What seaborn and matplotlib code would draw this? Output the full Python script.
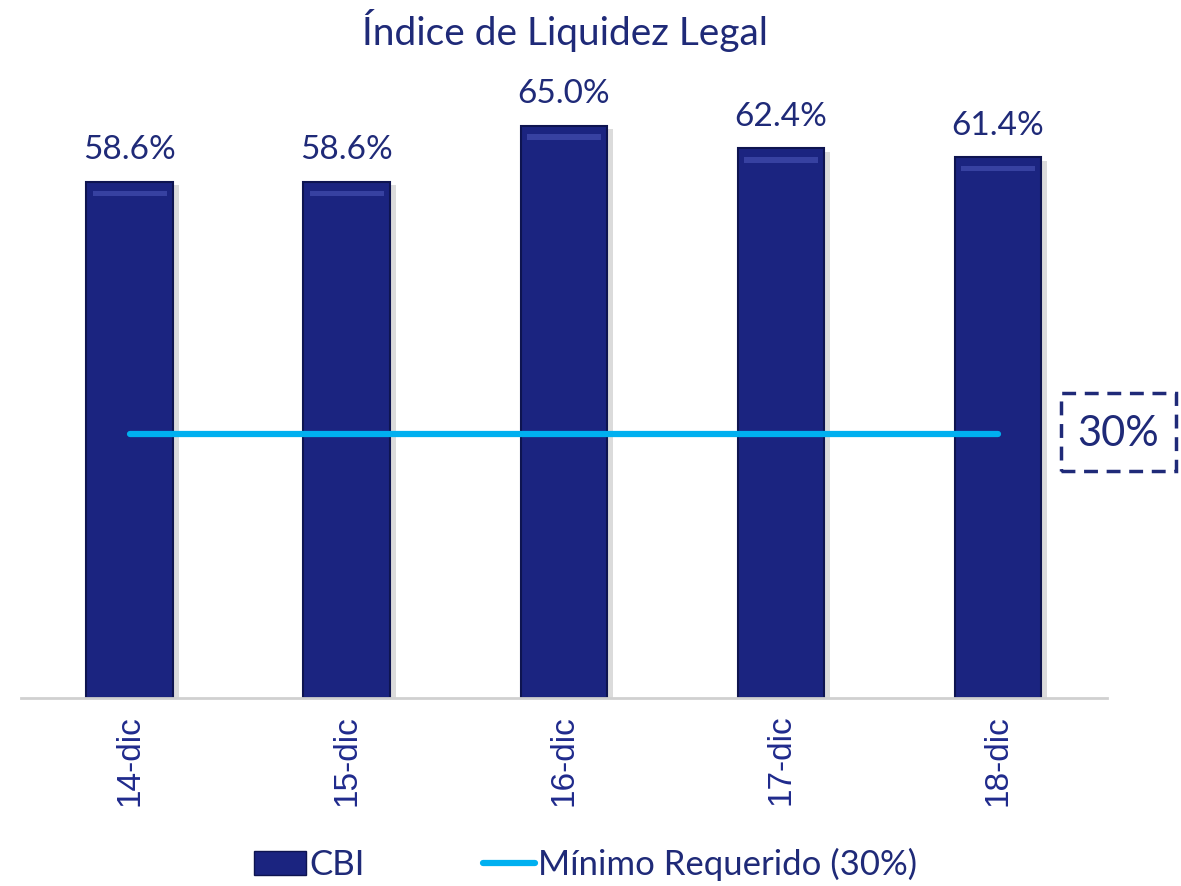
import pandas as pd
import seaborn as sns
import matplotlib.pyplot as plt
from matplotlib.patches import Patch, Rectangle
from matplotlib.lines import Line2D

# Data
fechas = ['14-dic', '15-dic', '16-dic', '17-dic', '18-dic']
cbi = [58.6, 58.6, 65.0, 62.4, 61.4]
minimo = [30, 30, 30, 30, 30]

navy = '#1B2480'
text_col = '#1F2A78'
cyan = '#00B0F0'

data = pd.DataFrame({'Fecha': fechas, 'CBI': cbi, 'Minimo': minimo})

sns.set_style('white')
plt.rcParams['font.family'] = ['Lato', 'DejaVu Sans']

fig = plt.figure(figsize=(11.81, 8.86), dpi=100)
ax = fig.add_axes([0.018, 0.212, 0.919, 0.696])

# shadow behind the bars
for i, v in enumerate(cbi):
    ax.add_patch(Rectangle((i - 0.2 + 0.025, 0), 0.4, v - 0.4,
                           facecolor='#9a9a9a', alpha=0.35, edgecolor='none', zorder=1))

sns.barplot(data=data, x='Fecha', y='CBI', color=navy, width=0.4,
            saturation=1, edgecolor='#0E1450', linewidth=1.5, ax=ax, zorder=2)

# light bevel at the top of each bar
for i, v in enumerate(cbi):
    ax.add_patch(Rectangle((i - 0.17, v - 1.6), 0.34, 0.6,
                           facecolor='#4A56B8', alpha=0.6, edgecolor='none', zorder=3))

ax.plot(range(len(fechas)), minimo, color=cyan, linewidth=4.5,
        solid_capstyle='round', zorder=4)

for i, v in enumerate(cbi):
    ax.text(i, v + 1.9, f'{v:.1f}%', ha='center', va='bottom',
            fontsize=24, color=text_col)

ax.set_ylim(0, 70)
ax.set_xlim(-0.5, 4.5)
ax.set_xlabel('')
ax.set_ylabel('')
ax.set_yticks([])
for s in ['top', 'right', 'left']:
    ax.spines[s].set_visible(False)
ax.spines['bottom'].set_color('#d0d0d0')
ax.spines['bottom'].set_linewidth(2)
ax.tick_params(axis='x', length=0, pad=12)
plt.setp(ax.get_xticklabels(), rotation=90, fontsize=24, color='#1F2A8C',
         family=['Liberation Sans', 'DejaVu Sans'])

fig.text(0.478, 0.966, 'Índice de Liquidez Legal', ha='center', va='center',
         fontsize=28, color=text_col)

# dashed box with 30%
fig.patches.append(Rectangle((0.898, 0.468), 0.098, 0.088, transform=fig.transFigure,
                             fill=False, edgecolor=text_col, linewidth=2.5,
                             linestyle=(0, (4, 2.5)), figure=fig))
fig.text(0.947, 0.510, '30%', ha='center', va='center', fontsize=30, color=text_col)

handles = [Patch(facecolor=navy, edgecolor='#0E1450', label='CBI'),
           Line2D([0], [0], color=cyan, linewidth=4.5, solid_capstyle='round',
                  label='Mínimo Requerido (30%)')]
fig.legend(handles=handles, loc='center', bbox_to_anchor=(0.496, 0.024), ncol=2,
           frameon=False, fontsize=25, labelcolor=text_col, handlelength=1.5,
           handletextpad=0.1, columnspacing=3.4, borderaxespad=0)

fig.savefig('out.png', dpi=100)
